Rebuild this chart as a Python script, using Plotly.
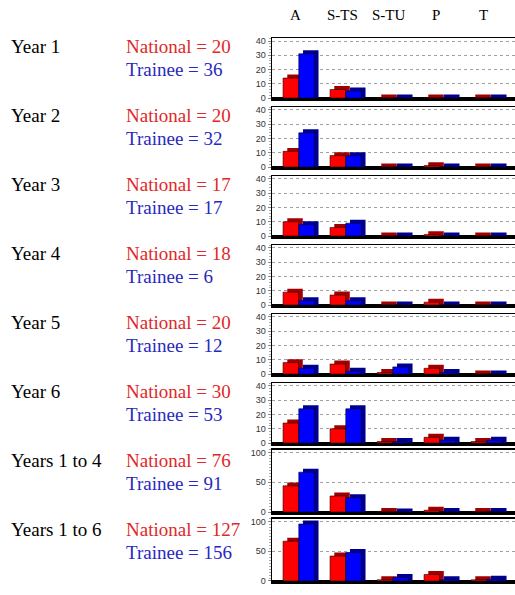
import plotly.graph_objects as go

# ---------------- data ----------------
categories = ["A", "S-TS", "S-TU", "P", "T"]
row_labels = ["Year 1", "Year 2", "Year 3", "Year 4", "Year 5", "Year 6",
              "Years 1 to 4", "Years 1 to 6"]
national_totals = [20, 20, 17, 18, 20, 30, 76, 127]
trainee_totals = [36, 32, 17, 6, 12, 53, 91, 156]

national_values = [
    [14, 6, 0, 0, 0],
    [11, 8, 0, 1, 0],
    [10, 6, 0, 1, 0],
    [9, 7, 0, 2, 0],
    [8, 7, 1, 4, 0],
    [14, 10, 1, 4, 1],
    [44, 27, 1, 3, 1],
    [67, 42, 2, 11, 2],
]
trainee_values = [
    [31, 5, 0, 0, 0],
    [24, 8, 0, 0, 0],
    [8, 9, 0, 0, 0],
    [3, 3, 0, 0, 0],
    [4, 2, 5, 1, 0],
    [24, 24, 1, 2, 2],
    [67, 24, 0, 1, 1],
    [96, 48, 6, 2, 3],
]
small_ticks = [0, 10, 20, 30, 40]
big_ticks = [0, 50, 100]

# ---------------- layout helpers ----------------
W, H = 515, 595
RED, RED_DARK = "#ff0000", "#a00000"
BLUE, BLUE_DARK = "#0000ff", "#000090"
ROW_STEP = 69.7
x_idx = list(range(len(categories)))

fig = go.Figure()
layout = dict(
    width=W, height=H, margin=dict(l=0, r=0, t=0, b=0),
    paper_bgcolor="white", plot_bgcolor="white",
    showlegend=False, barmode="overlay",
)
annotations = []

bar_w = 0.33
depth_dx = 0.09
depth_px = 3.5

for k in range(len(row_labels)):
    zero_px = 97 + ROW_STEP * k
    if k < 6:
        lo, hi, ppu, ticks, minor_dt = -1.0, 42.0, 1.44, small_ticks, 2
    else:
        lo, hi, ppu, ticks, minor_dt = -2.5, 105.0, 0.6, big_ticks, 5
    top_px = zero_px - hi * ppu
    bot_px = zero_px - lo * ppu
    dom_y = [1 - bot_px / H, 1 - top_px / H]
    e = depth_px / ppu

    n = k + 1
    xa = "x" if n == 1 else f"x{n}"
    ya = "y" if n == 1 else f"y{n}"

    for vals, col, dark, off in [
        (national_values[k], RED, RED_DARK, -bar_w - 0.005),
        (trainee_values[k], BLUE, BLUE_DARK, 0.0),
    ]:
        fig.add_trace(go.Bar(
            x=x_idx, y=[v + e for v in vals], width=bar_w, offset=off + depth_dx,
            marker=dict(color=dark, line=dict(width=0)),
            xaxis=xa, yaxis=ya, hoverinfo="skip"))
        fig.add_trace(go.Bar(
            x=x_idx, y=vals, width=bar_w, offset=off,
            marker=dict(color=col, line=dict(color="#200000" if col == RED else "#000020", width=0.6)),
            xaxis=xa, yaxis=ya, hoverinfo="skip"))

    layout["xaxis" if n == 1 else f"xaxis{n}"] = dict(
        domain=[272 / W, 1.0], range=[-0.57, 4.6], anchor=ya,
        showticklabels=False, ticks="", showgrid=False, zeroline=False,
        showline=True, linecolor="black", linewidth=1.5, mirror=True,
        fixedrange=True)
    layout["yaxis" if n == 1 else f"yaxis{n}"] = dict(
        domain=dom_y, range=[lo, hi], anchor=xa,
        tickvals=ticks, ticktext=[str(t) for t in ticks],
        tickfont=dict(family="Liberation Sans", size=9, color="#333333"),
        ticks="outside", ticklen=3, tickcolor="#888888",
        minor=dict(dtick=minor_dt, ticks="outside", ticklen=2, tickcolor="#aaaaaa"),
        showgrid=True, gridcolor="#a0a0a0", griddash="dot", gridwidth=1,
        zeroline=True, zerolinecolor="black", zerolinewidth=2,
        showline=True, linecolor="black", linewidth=1.5, mirror=False,
        fixedrange=True)

    cy = 45 + ROW_STEP * k
    annotations.append(dict(
        text=row_labels[k], xref="paper", yref="paper", x=9 / W, y=1 - cy / H,
        xanchor="left", yanchor="middle", showarrow=False,
        font=dict(family="Liberation Serif", size=19, color="black")))
    annotations.append(dict(
        text=f"National = {national_totals[k]}", xref="paper", yref="paper",
        x=124 / W, y=1 - cy / H, xanchor="left", yanchor="middle", showarrow=False,
        font=dict(family="Liberation Serif", size=19, color="#e02828")))
    annotations.append(dict(
        text=f"Trainee = {trainee_totals[k]}", xref="paper", yref="paper",
        x=124 / W, y=1 - (cy + 23) / H, xanchor="left", yanchor="middle", showarrow=False,
        font=dict(family="Liberation Serif", size=19, color="#2828c0")))

for i, c in enumerate(categories):
    annotations.append(dict(
        text=c, xref="x", yref="paper", x=i - 0.08, y=1 - 13 / H,
        xanchor="center", yanchor="middle", showarrow=False,
        font=dict(family="Liberation Serif", size=15, color="black")))

layout["annotations"] = annotations
fig.update_layout(**layout)
fig.write_html("out.html",
               config={"displayModeBar": False, "staticPlot": True},
               post_script="document.body.style.margin='0';document.body.style.overflow='hidden';")
